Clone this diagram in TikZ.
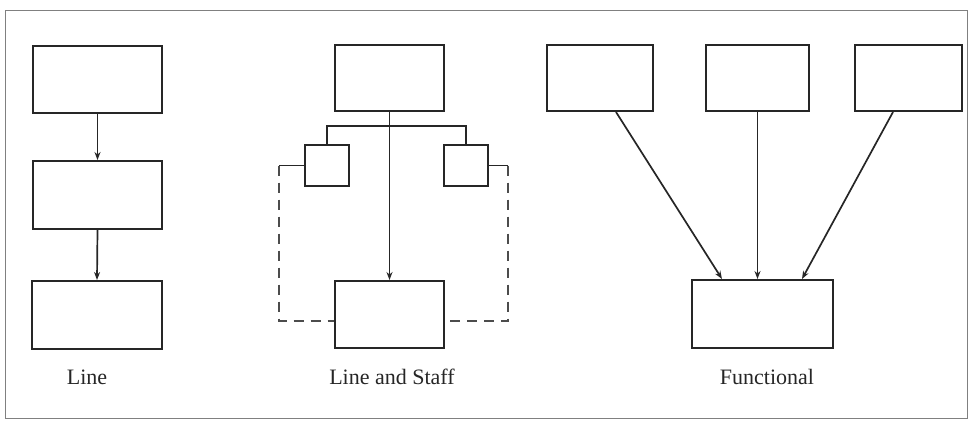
\documentclass[tikz,border=0pt]{standalone}
\usepackage{fontspec}
\setmainfont{Liberation Serif}
\usetikzlibrary{arrows.meta,calc}
\begin{document}
\begin{tikzpicture}[x=1pt,y=-1pt,
  box/.style={draw=black!85,line width=2pt,rectangle,inner sep=0pt,fill=white},
  conn/.style={draw=black!85,line width=1.7pt},
  arr/.style={conn,-{Stealth[length=8pt,width=6pt]}},
  staff/.style={draw=black!70,line width=2pt,dash pattern=on 10pt off 7pt},
  lbl/.style={font=\fontsize{22}{25}\selectfont,text=black!85,inner sep=0pt}]
\useasboundingbox (0,0) rectangle (971,423);
\draw[black!50,line width=1pt] (5,10) rectangle (967,418);
% Line
\node[box,minimum width=129pt,minimum height=67pt] (l1) at (97.5,79.5) {};
\node[box,minimum width=129pt,minimum height=68pt] (l2) at (97.5,195) {};
\node[box,minimum width=130pt,minimum height=68pt] (l3) at (97,315) {};
\draw[arr] (l1.south) -- (l2.north);
\draw[arr] (l2.south) -- (l3.north);
\node[lbl] (t1) at (87,377) {Line};
% Line and Staff
\node[box,minimum width=109pt,minimum height=66pt] (lsT) at (389.5,78) {};
\node[box,minimum width=109pt,minimum height=67pt] (lsB) at (389.5,314.5) {};
\node[box,minimum width=44pt,minimum height=41pt] (lsL) at (327,165.5) {};
\node[box,minimum width=44pt,minimum height=41pt] (lsR) at (466,165.5) {};
\coordinate (bar) at (389.5,126);
\coordinate (cl) at (279,164);
\coordinate (cr) at (508,164);
\draw[conn] (lsL.north) |- (bar) -| (lsR.north);
\draw[arr] (lsT.south) -- (lsB.north);
\draw[conn] (lsL.west) -- (lsL.west -| cl);
\draw[conn] (lsR.east) -- (lsR.east -| cr);
\draw[staff] (lsL.west -| cl) |- ($(lsB.west)+(0,6.5)$);
\draw[staff] (lsR.east -| cr) |- ($(lsB.east)+(0,6.5)$);
\node[lbl] (t2) at (392,377) {Line and Staff};
% Functional
\node[box,minimum width=106pt,minimum height=66pt] (fA) at (600,78) {};
\node[box,minimum width=103pt,minimum height=66pt] (fB) at (757.5,78) {};
\node[box,minimum width=107pt,minimum height=66pt] (fC) at (908.5,78) {};
\node[box,minimum width=141pt,minimum height=68pt] (fF) at (762.5,314) {};
\draw[arr] ($(fA.south)+(16,0)$) -- ($(fF.north)+(-40.5,0)$);
\draw[arr] (fB.south) -- (fB.south |- fF.north);
\draw[arr] ($(fC.south)+(-15.5,0)$) -- ($(fF.north)+(39.5,0)$);
\node[lbl] (t3) at (767,377) {Functional};
\end{tikzpicture}
\end{document}
